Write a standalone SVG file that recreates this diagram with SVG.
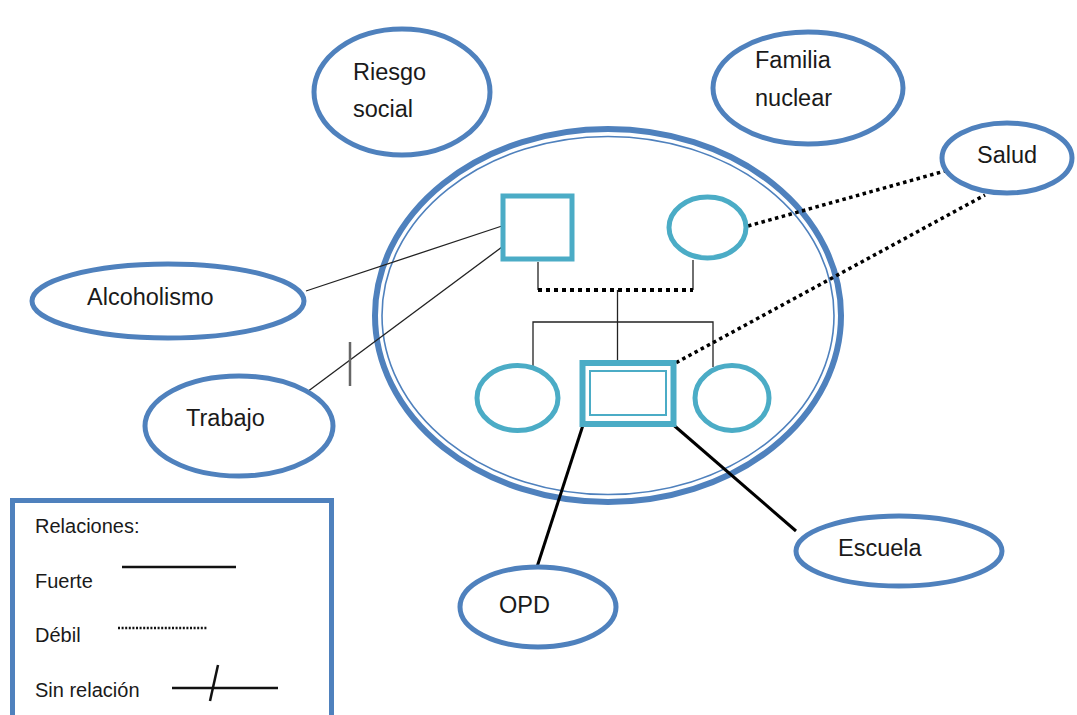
<svg xmlns="http://www.w3.org/2000/svg" width="1077" height="715" viewBox="0 0 1077 715">
<style>
.bg{fill:#fff}
.ell{fill:#fff;stroke:#4F81BD;stroke-width:5}
.mem{fill:#fff;stroke:#4BACC6;stroke-width:5}
.lbl{font-family:"Liberation Sans",Arial,sans-serif;font-size:23.5px;fill:#1a1a1a}
.leg{font-family:"Liberation Sans",Arial,sans-serif;font-size:20px;fill:#1a1a1a}
.thin{stroke:#222;stroke-width:1.3;fill:none}
.strong{stroke:#000;stroke-width:3;fill:none}
.weak{stroke:#000;stroke-width:3.5;stroke-dasharray:3.5 3.5;fill:none}
</style>
<rect class="bg" x="0" y="0" width="1077" height="715"/>

<g id="familia-ellipse">
<ellipse cx="608" cy="315.5" rx="233" ry="186.5" fill="#fff" stroke="#4F81BD" stroke-width="6"/>
<ellipse cx="608" cy="315.5" rx="226" ry="179" fill="none" stroke="#4F81BD" stroke-width="1.6"/>
</g>

<g id="connectors">
<line class="thin" x1="538" y1="262" x2="538" y2="290"/>
<line class="thin" x1="693" y1="260" x2="693" y2="290"/>
<line x1="538" y1="290" x2="693" y2="290" stroke="#000" stroke-width="4" stroke-dasharray="4 4"/>
<line class="thin" x1="617.5" y1="290" x2="617.5" y2="362"/>
<polyline class="thin" points="533,367 533,322 713,322 713,367"/>
<line class="thin" x1="502" y1="226" x2="306" y2="291"/>
<line class="thin" x1="502" y1="247" x2="307" y2="392"/>
<line x1="350" y1="342" x2="350" y2="386" stroke="#666" stroke-width="2.5"/>
<line class="weak" x1="748" y1="226" x2="945" y2="171"/>
<line class="weak" x1="670" y1="366" x2="985" y2="195"/>
<line class="strong" x1="584" y1="422" x2="537" y2="567"/>
<line class="strong" x1="670" y1="422" x2="796" y2="531"/>
</g>

<g id="riesgo-social">
<ellipse class="ell" cx="402" cy="92" rx="88" ry="63"/>
<text class="lbl" x="353" y="80">Riesgo</text>
<text class="lbl" x="353" y="117">social</text>
</g>

<g id="familia-nuclear">
<ellipse class="ell" cx="808" cy="88" rx="95" ry="56"/>
<text class="lbl" x="755" y="68">Familia</text>
<text class="lbl" x="755" y="106">nuclear</text>
</g>

<g id="salud">
<ellipse class="ell" cx="1007" cy="158" rx="65" ry="35"/>
<text class="lbl" x="977" y="163">Salud</text>
</g>

<g id="alcoholismo">
<ellipse class="ell" cx="168" cy="301" rx="136" ry="37"/>
<text class="lbl" x="87" y="305">Alcoholismo</text>
</g>

<g id="trabajo">
<ellipse class="ell" cx="239" cy="426" rx="94" ry="50"/>
<text class="lbl" x="186" y="426">Trabajo</text>
</g>

<g id="escuela">
<ellipse class="ell" cx="899" cy="551" rx="103" ry="35"/>
<text class="lbl" x="838" y="556">Escuela</text>
</g>

<g id="opd">
<ellipse class="ell" cx="538" cy="607" rx="78" ry="40"/>
<text class="lbl" x="499" y="613">OPD</text>
</g>

<g id="padre">
<rect class="mem" x="503" y="196" width="69" height="63"/>
</g>

<g id="madre">
<ellipse class="mem" cx="707.5" cy="227.5" rx="38.5" ry="30.5"/>
</g>

<g id="hija-1">
<ellipse class="mem" cx="517.5" cy="398" rx="40.5" ry="32.5"/>
</g>

<g id="paciente">
<rect x="582.5" y="363" width="91" height="61" fill="#fff" stroke="#4BACC6" stroke-width="6"/>
<rect x="590" y="371" width="76" height="44" fill="none" stroke="#4BACC6" stroke-width="2"/>
</g>

<g id="hija-2">
<ellipse class="mem" cx="732" cy="398" rx="37" ry="32.5"/>
</g>

<g id="leyenda">
<rect x="12.5" y="500.5" width="319" height="230" fill="#fff" stroke="#4F81BD" stroke-width="5"/>
<text class="leg" x="35" y="533">Relaciones:</text>
<text class="leg" x="35" y="588">Fuerte</text>
<line x1="122" y1="567" x2="236" y2="567" stroke="#111" stroke-width="2.5"/>
<text class="leg" x="35" y="642">Débil</text>
<line x1="118" y1="628" x2="207" y2="628" stroke="#111" stroke-width="2.5" stroke-dasharray="2 1.6"/>
<text class="leg" x="35" y="697">Sin relación</text>
<line x1="172" y1="688" x2="278" y2="688" stroke="#111" stroke-width="2.5"/>
<line x1="218" y1="665" x2="210" y2="701" stroke="#111" stroke-width="2.5"/>
</g>
</svg>
